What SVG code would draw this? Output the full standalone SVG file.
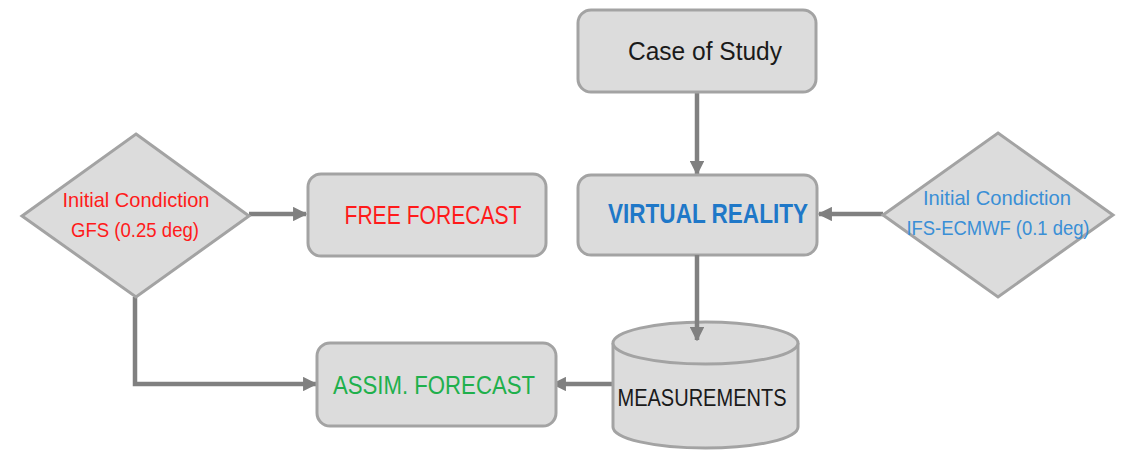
<svg xmlns="http://www.w3.org/2000/svg" width="1122" height="451" viewBox="0 0 1122 451">
  <defs>
    <style>
      .shape { fill: #dcdcdc; stroke: #a3a3a3; stroke-width: 3; }
      .link { fill: none; stroke: #808080; stroke-width: 4.5; }
      .lbl { font-family: "Liberation Sans", Arial, sans-serif; text-anchor: middle; }
      .red { fill: #ff1a1a; }
      .blue { fill: #1f78c8; }
      .lblue { fill: #3a8fd6; }
      .green { fill: #1fb04c; }
      .dark { fill: #1a1a1a; }
    </style>
    <marker id="arrow" viewBox="0 0 10 10" refX="9" refY="5" markerWidth="3.2" markerHeight="3.2" orient="auto" markerUnits="strokeWidth">
      <path d="M0,0 L10,5 L0,10 Z" fill="#808080"/>
    </marker>
  </defs>

  <rect width="1122" height="451" fill="#ffffff"/>

  <!-- connectors -->
  <g id="connectors">
    <line class="link" x1="697" y1="93" x2="697" y2="174" marker-end="url(#arrow)"/>
    <line class="link" x1="249" y1="214" x2="306" y2="214" marker-end="url(#arrow)"/>
    <line class="link" x1="883" y1="214" x2="819" y2="214" marker-end="url(#arrow)"/>
    <polyline class="link" points="135,297 135,384 316,384" marker-end="url(#arrow)"/>
    <line class="link" x1="613" y1="384" x2="553" y2="384" marker-end="url(#arrow)"/>
  </g>

  <g id="case-of-study">
    <rect class="shape" x="578" y="10" width="238" height="82" rx="13"/>
    <text class="lbl dark" x="705" y="60" font-size="26" textLength="154" lengthAdjust="spacingAndGlyphs">Case of Study</text>
  </g>

  <g id="virtual-reality">
    <rect class="shape" x="578" y="175" width="239" height="80" rx="13"/>
    <text class="lbl blue" x="708" y="223" font-size="28" font-weight="bold" textLength="200" lengthAdjust="spacingAndGlyphs">VIRTUAL REALITY</text>
  </g>

  <g id="free-forecast">
    <rect class="shape" x="308" y="174" width="238" height="82" rx="13"/>
    <text class="lbl red" x="433" y="224" font-size="26" textLength="177" lengthAdjust="spacingAndGlyphs">FREE FORECAST</text>
  </g>

  <g id="ic-gfs">
    <polygon class="shape" points="136,134 249,216 136,297 22,216"/>
    <text class="lbl red" x="136" y="207" font-size="21" textLength="147" lengthAdjust="spacingAndGlyphs">Initial Condiction</text>
    <text class="lbl red" x="135" y="237" font-size="21" textLength="128" lengthAdjust="spacingAndGlyphs">GFS (0.25 deg)</text>
  </g>

  <g id="ic-ifs">
    <polygon class="shape" points="998,133 1113,215 998,297 883,215"/>
    <text class="lbl lblue" x="997" y="205" font-size="21" textLength="148" lengthAdjust="spacingAndGlyphs">Initial Condiction</text>
    <text class="lbl lblue" x="998" y="235" font-size="21" textLength="183" lengthAdjust="spacingAndGlyphs">IFS-ECMWF (0.1 deg)</text>
  </g>

  <g id="assim-forecast">
    <rect class="shape" x="317" y="343" width="239" height="83" rx="13"/>
    <text class="lbl green" x="434" y="394" font-size="26" textLength="202" lengthAdjust="spacingAndGlyphs">ASSIM. FORECAST</text>
  </g>

  <g id="measurements">
    <path class="shape" d="M613,343 L613,427 A92.5,21 0 0 0 798,427 L798,343 A92.5,21 0 0 0 613,343 Z"/>
    <path class="shape" fill="none" d="M613,343 A92.5,21 0 0 0 798,343"/>
    <text class="lbl dark" x="702" y="406" font-size="23" textLength="169" lengthAdjust="spacingAndGlyphs">MEASUREMENTS</text>
  </g>

  <!-- arrow into the cylinder is drawn over its top face -->
  <g id="connectors-top">
    <line class="link" x1="697" y1="255" x2="697" y2="340" marker-end="url(#arrow)"/>
  </g>
</svg>
